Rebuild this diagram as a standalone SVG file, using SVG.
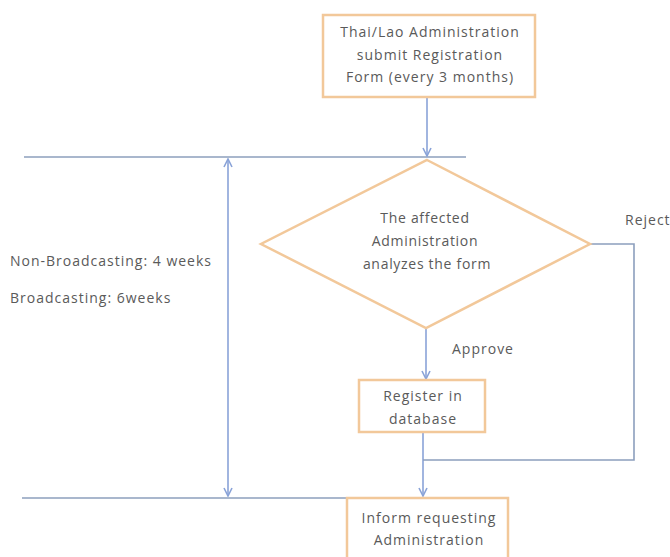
<svg xmlns="http://www.w3.org/2000/svg" width="670" height="557" viewBox="0 0 670 557">
<style>
.box{fill:#fff;stroke:#f2c89a;stroke-width:2.5}
.t{font-family:"Open Sans","Liberation Sans",sans-serif;font-size:14px;letter-spacing:1px;fill:#5a5a5a;text-anchor:middle}
.td{font-family:"Open Sans","Liberation Sans",sans-serif;font-size:14px;letter-spacing:0.7px;fill:#5a5a5a;text-anchor:middle}
.tl{font-family:"Open Sans","Liberation Sans",sans-serif;font-size:14px;letter-spacing:1px;fill:#5a5a5a}
.c{fill:none;stroke:#8aa3d8;stroke-width:1.6}
.h{fill:none;stroke:#8c9fbd;stroke-width:1.6}
</style>
<defs>
<marker id="a" viewBox="0 0 10 10" refX="9" refY="5" markerWidth="10" markerHeight="10" markerUnits="userSpaceOnUse" orient="auto-start-reverse">
<path d="M1,1 L9,5 L1,9" fill="none" stroke="#8aa3d8" stroke-width="1.6"/>
</marker>
</defs>
<rect width="670" height="557" fill="#fff"/>
<g id="connectors">
<line class="h" x1="24" y1="157" x2="466" y2="157"/>
<line class="h" x1="22" y1="498" x2="463" y2="498"/>
<line class="c" x1="228" y1="159" x2="228" y2="496" marker-start="url(#a)" marker-end="url(#a)"/>
<line class="c" x1="427" y1="97" x2="427" y2="156" marker-end="url(#a)"/>
<line class="c" x1="426" y1="328" x2="426" y2="379" marker-end="url(#a)"/>
<line class="c" x1="423" y1="433" x2="423" y2="496" marker-end="url(#a)"/>
<polyline class="h" points="590,244 634,244 634,460 423,460"/>
<text class="tl" x="452" y="354">Approve</text>
<text class="tl" x="625" y="225">Reject</text>
</g>
<g id="n1">
<rect class="box" x="323" y="15" width="212" height="82"/>
<text class="t" x="430" y="37">Thai/Lao Administration</text>
<text class="t" x="430" y="60">submit Registration</text>
<text class="t" x="430" y="82">Form (every 3 months)</text>
</g>
<g id="n2">
<polygon class="box" points="427,160 590,244 426,328 261,244"/>
<text class="td" x="425" y="223">The affected</text>
<text class="td" x="425" y="246">Administration</text>
<text class="td" x="427" y="269">analyzes the form</text>
</g>
<g id="n3">
<rect class="box" x="359" y="380" width="126" height="52"/>
<text class="t" x="423" y="401">Register in</text>
<text class="t" x="423" y="424">database</text>
</g>
<g id="n4">
<rect class="box" x="347" y="498" width="161" height="70"/>
<text class="t" x="429" y="523">Inform requesting</text>
<text class="t" x="429" y="545">Administration</text>
</g>
<g id="span">
<text class="tl" x="10" y="266">Non-Broadcasting: 4  weeks</text>
<text class="tl" x="10" y="303">Broadcasting: 6weeks</text>
</g>
</svg>
